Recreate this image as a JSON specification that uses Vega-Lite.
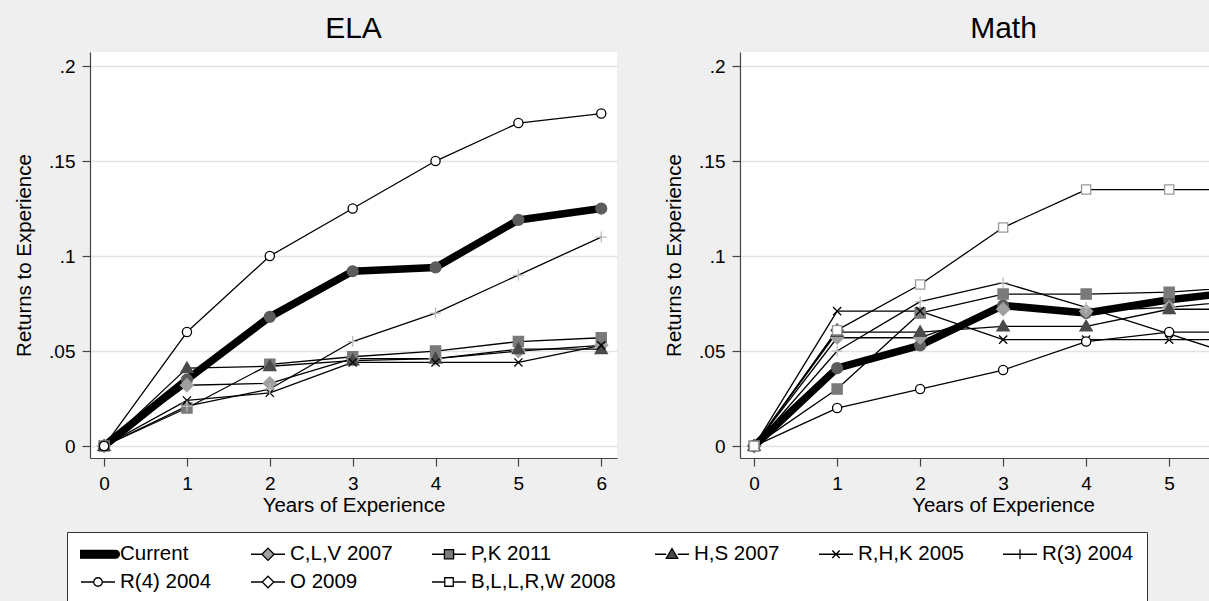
{
  "$schema": "https://vega.github.io/schema/vega-lite/v6.json",
  "background": "#efefef",
  "padding": {"left": 14, "top": 14, "right": 0, "bottom": 0},
  "bounds": "flush",
  "spacing": 123,
  "datasets": {
    "ela": [
      {"series": "Current", "years": 0, "returns": 0},
      {"series": "Current", "years": 1, "returns": 0.035},
      {"series": "Current", "years": 2, "returns": 0.068},
      {"series": "Current", "years": 3, "returns": 0.092},
      {"series": "Current", "years": 4, "returns": 0.094},
      {"series": "Current", "years": 5, "returns": 0.119},
      {"series": "Current", "years": 6, "returns": 0.125},
      {"series": "C,L,V 2007", "years": 0, "returns": 0},
      {"series": "C,L,V 2007", "years": 1, "returns": 0.032},
      {"series": "C,L,V 2007", "years": 2, "returns": 0.033},
      {"series": "C,L,V 2007", "years": 3, "returns": 0.046},
      {"series": "C,L,V 2007", "years": 4, "returns": 0.046},
      {"series": "C,L,V 2007", "years": 5, "returns": 0.05},
      {"series": "C,L,V 2007", "years": 6, "returns": 0.053},
      {"series": "P,K 2011", "years": 0, "returns": 0},
      {"series": "P,K 2011", "years": 1, "returns": 0.02},
      {"series": "P,K 2011", "years": 2, "returns": 0.043},
      {"series": "P,K 2011", "years": 3, "returns": 0.047},
      {"series": "P,K 2011", "years": 4, "returns": 0.05},
      {"series": "P,K 2011", "years": 5, "returns": 0.055},
      {"series": "P,K 2011", "years": 6, "returns": 0.057},
      {"series": "H,S 2007", "years": 0, "returns": 0},
      {"series": "H,S 2007", "years": 1, "returns": 0.041},
      {"series": "H,S 2007", "years": 2, "returns": 0.042},
      {"series": "H,S 2007", "years": 3, "returns": 0.045},
      {"series": "H,S 2007", "years": 4, "returns": 0.046},
      {"series": "H,S 2007", "years": 5, "returns": 0.051},
      {"series": "H,S 2007", "years": 6, "returns": 0.051},
      {"series": "R,H,K 2005", "years": 0, "returns": 0},
      {"series": "R,H,K 2005", "years": 1, "returns": 0.024},
      {"series": "R,H,K 2005", "years": 2, "returns": 0.028},
      {"series": "R,H,K 2005", "years": 3, "returns": 0.044},
      {"series": "R,H,K 2005", "years": 4, "returns": 0.044},
      {"series": "R,H,K 2005", "years": 5, "returns": 0.044},
      {"series": "R,H,K 2005", "years": 6, "returns": 0.053},
      {"series": "R(3) 2004", "years": 0, "returns": 0},
      {"series": "R(3) 2004", "years": 1, "returns": 0.021},
      {"series": "R(3) 2004", "years": 2, "returns": 0.03},
      {"series": "R(3) 2004", "years": 3, "returns": 0.055},
      {"series": "R(3) 2004", "years": 4, "returns": 0.07},
      {"series": "R(3) 2004", "years": 5, "returns": 0.09},
      {"series": "R(3) 2004", "years": 6, "returns": 0.11},
      {"series": "R(4) 2004", "years": 0, "returns": 0},
      {"series": "R(4) 2004", "years": 1, "returns": 0.06},
      {"series": "R(4) 2004", "years": 2, "returns": 0.1},
      {"series": "R(4) 2004", "years": 3, "returns": 0.125},
      {"series": "R(4) 2004", "years": 4, "returns": 0.15},
      {"series": "R(4) 2004", "years": 5, "returns": 0.17},
      {"series": "R(4) 2004", "years": 6, "returns": 0.175}
    ],
    "math": [
      {"series": "Current", "years": 0, "returns": 0},
      {"series": "Current", "years": 1, "returns": 0.041},
      {"series": "Current", "years": 2, "returns": 0.053},
      {"series": "Current", "years": 3, "returns": 0.074},
      {"series": "Current", "years": 4, "returns": 0.07},
      {"series": "Current", "years": 5, "returns": 0.077},
      {"series": "Current", "years": 6, "returns": 0.082},
      {"series": "C,L,V 2007", "years": 0, "returns": 0},
      {"series": "C,L,V 2007", "years": 1, "returns": 0.057},
      {"series": "C,L,V 2007", "years": 2, "returns": 0.057},
      {"series": "C,L,V 2007", "years": 3, "returns": 0.072},
      {"series": "C,L,V 2007", "years": 4, "returns": 0.071},
      {"series": "C,L,V 2007", "years": 5, "returns": 0.073},
      {"series": "C,L,V 2007", "years": 6, "returns": 0.077},
      {"series": "P,K 2011", "years": 0, "returns": 0},
      {"series": "P,K 2011", "years": 1, "returns": 0.03},
      {"series": "P,K 2011", "years": 2, "returns": 0.07},
      {"series": "P,K 2011", "years": 3, "returns": 0.08},
      {"series": "P,K 2011", "years": 4, "returns": 0.08},
      {"series": "P,K 2011", "years": 5, "returns": 0.081},
      {"series": "P,K 2011", "years": 6, "returns": 0.084},
      {"series": "H,S 2007", "years": 0, "returns": 0},
      {"series": "H,S 2007", "years": 1, "returns": 0.06},
      {"series": "H,S 2007", "years": 2, "returns": 0.06},
      {"series": "H,S 2007", "years": 3, "returns": 0.063},
      {"series": "H,S 2007", "years": 4, "returns": 0.063},
      {"series": "H,S 2007", "years": 5, "returns": 0.072},
      {"series": "H,S 2007", "years": 6, "returns": 0.072},
      {"series": "R,H,K 2005", "years": 0, "returns": 0},
      {"series": "R,H,K 2005", "years": 1, "returns": 0.071},
      {"series": "R,H,K 2005", "years": 2, "returns": 0.071},
      {"series": "R,H,K 2005", "years": 3, "returns": 0.056},
      {"series": "R,H,K 2005", "years": 4, "returns": 0.056},
      {"series": "R,H,K 2005", "years": 5, "returns": 0.056},
      {"series": "R,H,K 2005", "years": 6, "returns": 0.056},
      {"series": "R(3) 2004", "years": 0, "returns": 0},
      {"series": "R(3) 2004", "years": 1, "returns": 0.05},
      {"series": "R(3) 2004", "years": 2, "returns": 0.076},
      {"series": "R(3) 2004", "years": 3, "returns": 0.086},
      {"series": "R(3) 2004", "years": 4, "returns": 0.073},
      {"series": "R(3) 2004", "years": 5, "returns": 0.059},
      {"series": "R(3) 2004", "years": 6, "returns": 0.045},
      {"series": "R(4) 2004", "years": 0, "returns": 0},
      {"series": "R(4) 2004", "years": 1, "returns": 0.02},
      {"series": "R(4) 2004", "years": 2, "returns": 0.03},
      {"series": "R(4) 2004", "years": 3, "returns": 0.04},
      {"series": "R(4) 2004", "years": 4, "returns": 0.055},
      {"series": "R(4) 2004", "years": 5, "returns": 0.06},
      {"series": "R(4) 2004", "years": 6, "returns": 0.06},
      {"series": "O 2009", "years": 0, "returns": 0},
      {"series": "O 2009", "years": 1, "returns": 0.061},
      {"series": "B,L,L,R,W 2008", "years": 0, "returns": 0},
      {"series": "B,L,L,R,W 2008", "years": 1, "returns": 0.061},
      {"series": "B,L,L,R,W 2008", "years": 2, "returns": 0.085},
      {"series": "B,L,L,R,W 2008", "years": 3, "returns": 0.115},
      {"series": "B,L,L,R,W 2008", "years": 4, "returns": 0.135},
      {"series": "B,L,L,R,W 2008", "years": 5, "returns": 0.135},
      {"series": "B,L,L,R,W 2008", "years": 6, "returns": 0.135}
    ]
  },
  "hconcat": [
    {
      "width": 527,
      "height": 406,
      "title": {"text": "ELA"},
      "data": {"name": "ela"},
      "encoding": {
        "x": {"field": "years", "type": "quantitative", "scale": {"domain": [-0.17, 6.19], "nice": false, "zero": false}, "axis": {"values": [0, 1, 2, 3, 4, 5, 6], "title": "Years of Experience"}},
        "y": {"field": "returns", "type": "quantitative", "scale": {"domain": [-0.0063, 0.2074], "nice": false, "zero": false}, "axis": {"values": [0, 0.05, 0.1, 0.15, 0.2], "title": "Returns to Experience", "labelExpr": "replace(format(datum.value, '~g'), '0.', '.')"}}
      },
      "layer": [
        {
          "mark": {"type": "line", "strokeJoin": "round", "strokeCap": "round", "clip": true},
          "encoding": {
            "stroke": {
              "field": "series", "type": "nominal", "sort": null, "legend": null,
              "scale": {"domain": ["Current", "C,L,V 2007", "P,K 2011", "H,S 2007", "R,H,K 2005", "R(3) 2004", "R(4) 2004", "O 2009", "B,L,L,R,W 2008"], "range": ["#000000", "#000000", "#000000", "#000000", "#000000", "#000000", "#000000", "#000000", "#000000"]}
            },
            "strokeWidth": {"condition": {"test": "datum.series === 'Current'", "value": 7.5}, "value": 1.3}
          }
        },
        {
          "mark": {"type": "point", "filled": false, "size": 1156, "strokeWidth": 1.3, "opacity": 1, "clip": true},
          "encoding": {
            "shape": {"field": "series", "type": "nominal", "legend": null,
              "scale": {"domain": ["Current", "C,L,V 2007", "P,K 2011", "H,S 2007", "R,H,K 2005", "R(3) 2004", "R(4) 2004", "O 2009", "B,L,L,R,W 2008"],
                "range": ["M0.32,0A0.32,0.32,0,1,1,-0.32,0A0.32,0.32,0,1,1,0.32,0Z", "M0,-0.38L0.38,0L0,0.38L-0.38,0Z", "M-0.3,-0.3H0.3V0.3H-0.3Z", "M0,-0.36L0.36,0.26H-0.36Z", "M-0.24,-0.24L0.24,0.24M-0.24,0.24L0.24,-0.24", "M-0.32,0H0.32M0,-0.32V0.32", "M0.27,0A0.27,0.27,0,1,1,-0.27,0A0.27,0.27,0,1,1,0.27,0Z", "M0,-0.36L0.36,0L0,0.36L-0.36,0Z", "M-0.27,-0.27H0.27V0.27H-0.27Z"]}},
            "color": {"field": "series", "type": "nominal", "legend": null,
              "scale": {"domain": ["Current", "C,L,V 2007", "P,K 2011", "H,S 2007", "R,H,K 2005", "R(3) 2004", "R(4) 2004", "O 2009", "B,L,L,R,W 2008"],
                "range": ["#5c5c5c", "#a0a0a0", "#7a7a7a", "#4a4a4a", "#000000", "#bdbdbd", "#000000", "#555555", "#9a9a9a"]}},
            "fill": {"field": "series", "type": "nominal", "legend": null,
              "scale": {"domain": ["Current", "C,L,V 2007", "P,K 2011", "H,S 2007", "R,H,K 2005", "R(3) 2004", "R(4) 2004", "O 2009", "B,L,L,R,W 2008"],
                "range": ["#5c5c5c", "#a0a0a0", "#7a7a7a", "#4a4a4a", "transparent", "transparent", "#ffffff", "#ffffff", "#ffffff"]}}
          }
        },
        {
          "transform": [{"filter": "datum.years < 0"}],
          "mark": {"type": "point", "filled": false, "size": 1156, "strokeWidth": 1.3, "opacity": 1},
          "encoding": {
            "shape": {"field": "series", "type": "nominal",
              "scale": {"domain": ["Current", "C,L,V 2007", "P,K 2011", "H,S 2007", "R,H,K 2005", "R(3) 2004", "R(4) 2004", "O 2009", "B,L,L,R,W 2008"],
                "range": ["M-1.03,-0.23H1.03A0.23,0.23,0,0,1,1.03,0.23H-1.03A0.23,0.23,0,0,1,-1.03,-0.23Z", "M-1,0H-0.36M0.36,0H1M0,-0.36L0.36,0L0,0.36L-0.36,0Z", "M-1,0H-0.27M0.27,0H1M-0.27,-0.27H0.27V0.27H-0.27Z", "M-1,0H-0.34M0.34,0H1M0,-0.34L0.34,0.24H-0.34Z", "M-1,0H1M-0.22,-0.22L0.22,0.22M-0.22,0.22L0.22,-0.22", "M-1,0H1M0,-0.3V0.3", "M-1,0H-0.25M0.25,0H1M0.25,0A0.25,0.25,0,1,1,-0.25,0A0.25,0.25,0,1,1,0.25,0Z", "M-1,0H-0.34M0.34,0H1M0,-0.34L0.34,0L0,0.34L-0.34,0Z", "M-1,0H-0.25M0.25,0H1M-0.25,-0.25H0.25V0.25H-0.25Z"]},
              "legend": {"title": null, "orient": "none", "legendX": -23, "legendY": 480, "direction": "horizontal", "columns": 6, "gridAlign": "each",
                "columnPadding": 38, "rowPadding": 7, "clipHeight": 18, "padding": 13, "symbolSize": 1156, "symbolStrokeWidth": 1.3, "symbolOpacity": 1,
                "labelFont": "Liberation Sans", "labelFontSize": 20.5, "labelColor": "#000000", "labelOffset": 4, "labelLimit": 400,
                "fillColor": "#ffffff", "strokeColor": "#333333",
                "encode": {"symbols": {"enter": {"size": {"value": 1156}, "strokeWidth": {"value": 1.3}}, "update": {"size": {"value": 1156}, "strokeWidth": {"value": 1.3}, "opacity": {"value": 1}}}}}},
            "color": {"field": "series", "type": "nominal",
              "scale": {"domain": ["Current", "C,L,V 2007", "P,K 2011", "H,S 2007", "R,H,K 2005", "R(3) 2004", "R(4) 2004", "O 2009", "B,L,L,R,W 2008"],
                "range": ["#000000", "#000000", "#000000", "#000000", "#000000", "#000000", "#000000", "#000000", "#000000"]},
              "legend": {"title": null, "orient": "none", "legendX": -23, "legendY": 480, "direction": "horizontal", "columns": 6, "gridAlign": "each",
                "columnPadding": 38, "rowPadding": 7, "clipHeight": 18, "padding": 13, "symbolSize": 1156, "symbolStrokeWidth": 1.3, "symbolOpacity": 1,
                "labelFont": "Liberation Sans", "labelFontSize": 20.5, "labelColor": "#000000", "labelOffset": 4, "labelLimit": 400,
                "fillColor": "#ffffff", "strokeColor": "#333333",
                "encode": {"symbols": {"enter": {"size": {"value": 1156}, "strokeWidth": {"value": 1.3}}, "update": {"size": {"value": 1156}, "strokeWidth": {"value": 1.3}, "opacity": {"value": 1}}}}}},
            "fill": {"field": "series", "type": "nominal",
              "scale": {"domain": ["Current", "C,L,V 2007", "P,K 2011", "H,S 2007", "R,H,K 2005", "R(3) 2004", "R(4) 2004", "O 2009", "B,L,L,R,W 2008"],
                "range": ["#000000", "#a0a0a0", "#7a7a7a", "#4a4a4a", "transparent", "transparent", "#ffffff", "#ffffff", "#ffffff"]},
              "legend": {"title": null, "orient": "none", "legendX": -23, "legendY": 480, "direction": "horizontal", "columns": 6, "gridAlign": "each",
                "columnPadding": 38, "rowPadding": 7, "clipHeight": 18, "padding": 13, "symbolSize": 1156, "symbolStrokeWidth": 1.3, "symbolOpacity": 1,
                "labelFont": "Liberation Sans", "labelFontSize": 20.5, "labelColor": "#000000", "labelOffset": 4, "labelLimit": 400,
                "fillColor": "#ffffff", "strokeColor": "#333333",
                "encode": {"symbols": {"enter": {"size": {"value": 1156}, "strokeWidth": {"value": 1.3}}, "update": {"size": {"value": 1156}, "strokeWidth": {"value": 1.3}, "opacity": {"value": 1}}}}}}
          }
        }
      ],
      "resolve": {"scale": {"shape": "independent", "color": "independent", "fill": "independent"}}
    },
    {
      "width": 469,
      "height": 406,
      "title": {"text": "Math", "dx": 29},
      "data": {"name": "math"},
      "encoding": {
        "x": {"field": "years", "type": "quantitative", "scale": {"domain": [-0.17, 5.48], "nice": false, "zero": false}, "axis": {"values": [0, 1, 2, 3, 4, 5], "title": "Years of Experience", "titleX": 263}},
        "y": {"field": "returns", "type": "quantitative", "scale": {"domain": [-0.0063, 0.2074], "nice": false, "zero": false}, "axis": {"values": [0, 0.05, 0.1, 0.15, 0.2], "title": "Returns to Experience", "labelExpr": "replace(format(datum.value, '~g'), '0.', '.')"}}
      },
      "layer": [
        {
          "mark": {"type": "line", "strokeJoin": "round", "strokeCap": "round", "clip": true},
          "encoding": {
            "stroke": {
              "field": "series", "type": "nominal", "sort": null, "legend": null,
              "scale": {"domain": ["Current", "C,L,V 2007", "P,K 2011", "H,S 2007", "R,H,K 2005", "R(3) 2004", "R(4) 2004", "O 2009", "B,L,L,R,W 2008"], "range": ["#000000", "#000000", "#000000", "#000000", "#000000", "#000000", "#000000", "#000000", "#000000"]}
            },
            "strokeWidth": {"condition": {"test": "datum.series === 'Current'", "value": 7.5}, "value": 1.3}
          }
        },
        {
          "mark": {"type": "point", "filled": false, "size": 1156, "strokeWidth": 1.3, "opacity": 1, "clip": true},
          "encoding": {
            "shape": {"field": "series", "type": "nominal", "legend": null,
              "scale": {"domain": ["Current", "C,L,V 2007", "P,K 2011", "H,S 2007", "R,H,K 2005", "R(3) 2004", "R(4) 2004", "O 2009", "B,L,L,R,W 2008"],
                "range": ["M0.32,0A0.32,0.32,0,1,1,-0.32,0A0.32,0.32,0,1,1,0.32,0Z", "M0,-0.38L0.38,0L0,0.38L-0.38,0Z", "M-0.3,-0.3H0.3V0.3H-0.3Z", "M0,-0.36L0.36,0.26H-0.36Z", "M-0.24,-0.24L0.24,0.24M-0.24,0.24L0.24,-0.24", "M-0.32,0H0.32M0,-0.32V0.32", "M0.27,0A0.27,0.27,0,1,1,-0.27,0A0.27,0.27,0,1,1,0.27,0Z", "M0,-0.36L0.36,0L0,0.36L-0.36,0Z", "M-0.27,-0.27H0.27V0.27H-0.27Z"]}},
            "color": {"field": "series", "type": "nominal", "legend": null,
              "scale": {"domain": ["Current", "C,L,V 2007", "P,K 2011", "H,S 2007", "R,H,K 2005", "R(3) 2004", "R(4) 2004", "O 2009", "B,L,L,R,W 2008"],
                "range": ["#5c5c5c", "#a0a0a0", "#7a7a7a", "#4a4a4a", "#000000", "#bdbdbd", "#000000", "#555555", "#9a9a9a"]}},
            "fill": {"field": "series", "type": "nominal", "legend": null,
              "scale": {"domain": ["Current", "C,L,V 2007", "P,K 2011", "H,S 2007", "R,H,K 2005", "R(3) 2004", "R(4) 2004", "O 2009", "B,L,L,R,W 2008"],
                "range": ["#5c5c5c", "#a0a0a0", "#7a7a7a", "#4a4a4a", "transparent", "transparent", "#ffffff", "#ffffff", "#ffffff"]}}
          }
        }
      ]
    }
  ],
  "resolve": {
    "scale": {"x": "independent", "y": "independent", "stroke": "independent", "shape": "independent", "color": "independent", "fill": "independent"},
    "legend": {"stroke": "independent", "shape": "independent", "color": "independent", "fill": "independent"}
  },
  "config": {
    "font": "Liberation Sans",
    "view": {"stroke": null, "fill": "#ffffff"},
    "axis": {
      "labelFont": "Liberation Sans", "labelFontSize": 19, "labelColor": "#000000",
      "titleFont": "Liberation Sans", "titleFontSize": 20.5, "titleFontWeight": "normal", "titleColor": "#000000",
      "domainColor": "#444444", "domainWidth": 1.2, "tickColor": "#444444", "tickWidth": 1.2, "tickSize": 8, "labelPadding": 7,
      "gridColor": "#e3e3e3", "gridWidth": 1.3
    },
    "axisX": {"grid": false, "labelPadding": 8, "titlePadding": 2},
    "axisY": {"grid": true, "titlePadding": 14},
    "title": {"font": "Liberation Sans", "fontSize": 30, "fontWeight": "normal", "color": "#000000", "offset": 8, "anchor": "middle"}
  }
}
